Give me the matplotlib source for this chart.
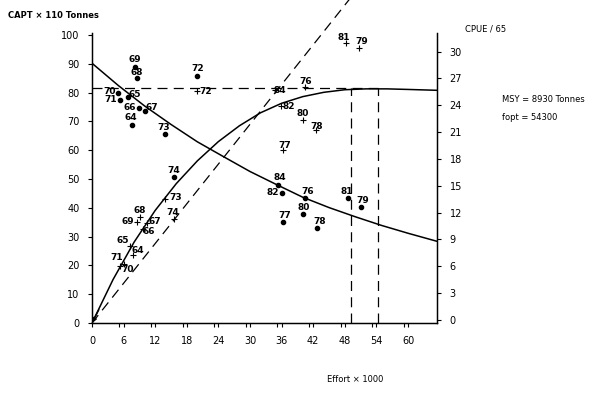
import matplotlib
matplotlib.use("Agg")
import matplotlib.pyplot as plt

plt.rcParams['font.family'] = ['DejaVu Sans']

# years of the observations
years = ['64', '65', '66', '67', '68', '69', '70', '71', '72', '73', '74',
         '76', '77', '78', '79', '80', '81', '82', '84']

# catch (x 110 tonnes) against effort (x 1000), left axis
catch_effort = [7.8, 7.2, 9.7, 10.4, 9.1, 8.5, 6.1, 5.3, 19.9, 13.9, 15.6,
                40.4, 36.2, 42.5, 50.7, 40.0, 48.2, 35.9, 34.7]
catch_vals = [23.7, 26.8, 32.8, 34.8, 36.9, 35.2, 20.6, 19.9, 80.5, 43.2, 36.2,
              81.9, 59.9, 66.9, 95.5, 70.4, 97.2, 75.3, 80.8]

# CPUE / 65 against effort, right axis
cpue_effort = [7.6, 6.8, 8.9, 10.1, 8.5, 8.2, 4.9, 5.3, 19.9, 13.9, 15.6,
               40.4, 36.2, 42.7, 51.0, 40.0, 48.6, 36.1, 35.3]
cpue_vals = [21.8, 24.9, 23.7, 23.3, 27.0, 28.3, 25.4, 24.6, 27.3, 20.8, 16.0,
             13.6, 10.9, 10.3, 12.6, 11.8, 13.6, 14.2, 15.1]

# fitted catch curve
curve_f = [0, 4, 8, 12, 16, 20, 24, 28, 32, 36, 40, 44, 48, 52, 56, 60, 65.5]
curve_catch = [0, 15.1, 28.1, 39.1, 48.4, 56.3, 63.0, 68.5, 73.0, 76.3, 78.6,
               80.1, 81.0, 81.3, 81.3, 81.1, 80.8]

# fitted CPUE curve
line_f = [0, 5, 10, 15, 20, 25, 30, 35, 40, 45, 50, 55, 60, 65.5]
line_cpue = [28.69, 26.20, 23.91, 21.85, 19.91, 18.24, 16.59, 15.14, 13.72,
             12.56, 11.53, 10.56, 9.69, 8.79]

msy = 81.5
fopt = 54.3
f_second = 49.1
diag_f = [0, 50]
diag_catch = [0, 115]

# label offsets in pixels (dx, dy)
catch_off = [(5, 4), (-7, 5), (6, -3), (8, 1), (0, 6), (-9, 0), (3, -6), (-3, 8),
             (9, 0), (10, 1), (-1, 6), (1, 6), (2, 5), (1, 4), (3, 6), (0, 7),
             (-2, 6), (8, 0), (5, 0)]
cpue_off = [(-1, 7), (7, 3), (-9, 0), (7, 4), (0, 6), (0, 7), (-8, 1), (-9, 0),
            (1, 7), (-2, 6), (0, 6), (3, 7), (2, 7), (3, 6), (2, 7), (1, 7),
            (-1, 7), (-9, 0), (2, 7)]

fig = plt.figure(figsize=(6, 3.95), dpi=100)
ax = fig.add_axes([92/600, 1-323/395, (437-92)/600, (323-33)/395])
ax2 = ax.twinx()

ax.set_xlim(0, 65.5)
ax.set_ylim(0, 100.7)
ax2.set_ylim(-0.34, 32.07)

dash = (0, (8, 5))
ax.plot(curve_f, curve_catch, color='black', lw=1.1)
# little arrow head where the catch curve meets the origin
ax.annotate('', xy=(0, 0), xytext=(1.3, 4.6),
            arrowprops=dict(arrowstyle='-|>', color='black', lw=1.0,
                            mutation_scale=7, shrinkA=0, shrinkB=0))
ax2.plot(line_f, line_cpue, color='black', lw=1.1)

ax.plot(diag_f, diag_catch, color='black', lw=0.9, ls=dash, clip_on=False)
ax.plot([0, fopt], [msy, msy], color='black', lw=0.9, ls=dash)
ax.plot([f_second, f_second], [0, msy], color='black', lw=0.9, ls=dash)
ax.plot([fopt, fopt], [0, msy], color='black', lw=0.9, ls=dash)

ax.scatter(catch_effort, catch_vals, marker='+', s=14, color='black',
           linewidths=0.8, zorder=3)
ax2.scatter(cpue_effort, cpue_vals, marker='o', s=9, color='black', zorder=3)

for yr, fx, cy, (dx, dy) in zip(years, catch_effort, catch_vals, catch_off):
    ax.annotate(yr, (fx, cy), xytext=(dx, dy), textcoords='offset pixels',
                ha='center', va='center', fontsize=6.5, fontweight='bold')
for yr, fx, cy, (dx, dy) in zip(years, cpue_effort, cpue_vals, cpue_off):
    ax2.annotate(yr, (fx, cy), xytext=(dx, dy), textcoords='offset pixels',
                 ha='center', va='center', fontsize=6.5, fontweight='bold')

ax.spines['top'].set_visible(False)
ax2.spines['top'].set_visible(False)
for sp in ['left', 'bottom']:
    ax.spines[sp].set_linewidth(1.0)
ax2.spines['right'].set_linewidth(1.0)

ax.set_xticks(range(0, 61, 6))
ax.set_xticks([t - 0.8 for t in range(6, 61, 6)], minor=True)
ax.tick_params(axis='x', which='both', direction='out', length=3, width=0.8,
               labelsize=7, pad=6)
ax.set_yticks(range(0, 101, 10))
ax.tick_params(axis='y', direction='out', length=3, width=0.8, labelsize=7, pad=6)
ax2.set_yticks(range(0, 31, 3))
ax2.tick_params(axis='y', direction='out', length=3, width=0.8, labelsize=7, pad=6)

fig.text(8/600, 1-15/395, 'CAPT × 110 Tonnes', fontsize=6, fontweight='bold',
         va='center', ha='left')
fig.text(465/600, 1-29/395, 'CPUE / 65', fontsize=6, va='center', ha='left')
fig.text(502/600, 1-99/395, 'MSY = 8930 Tonnes', fontsize=6, va='center', ha='left')
fig.text(502/600, 1-118/395, 'fopt = 54300', fontsize=6, va='center', ha='left')
fig.text(327/600, 1-380/395, 'Effort × 1000', fontsize=6, va='center', ha='left')

fig.savefig('out.png', dpi=100)
